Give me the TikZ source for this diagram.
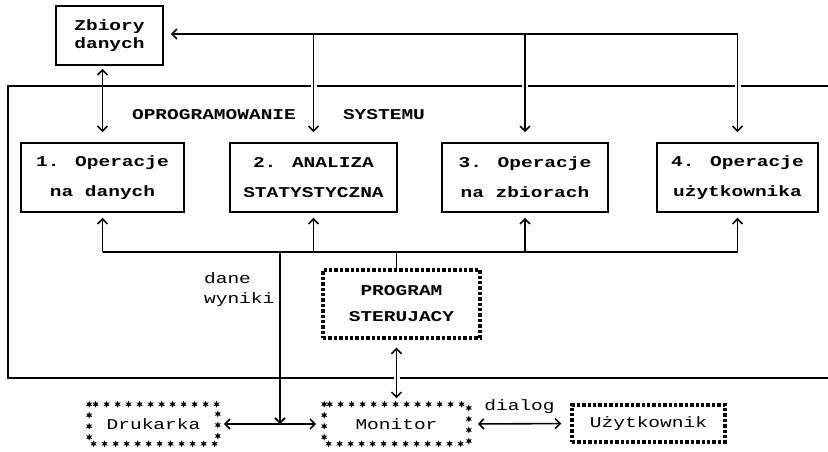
\documentclass[tikz,border=0pt]{standalone}
\usepackage{fontspec}
\newfontfamily\pixfont{Liberation Mono}[FakeStretch=1.3]
\usetikzlibrary{arrows.meta,decorations.markings,shapes.geometric}

\tikzset{
  box/.style={draw, line width=1.6pt, minimum height=69pt, align=center, inner sep=0pt},
  dashbox/.style={draw, line width=3.4pt, dash pattern=on 3.4pt off 2pt, align=center, inner sep=0pt},
  starbox/.style={minimum height=38pt, inner sep=0pt, font=\pixfont\fontsize{15}{18}\selectfont},
  starline/.style={postaction={decorate}, decoration={markings,
      mark=between positions 0 and 0.999 step 11pt with {\node[star, star points=6, star point ratio=2.2, fill, inner sep=0pt, minimum size=7pt] {};}}},
  gap/.style={preaction={draw=white, line width=6pt, -, shorten <=5pt, shorten >=12pt}}
}

\begin{document}
\begin{tikzpicture}[x=1pt, y=-1pt, line width=1.6pt, font=\pixfont\bfseries\fontsize{15}{30}\selectfont, >={Straight Barb[length=5pt,width=10pt]}]
	\useasboundingbox (0,0) rectangle (828,451);
	% Zbiory danych
	\node[box, minimum width=107pt, minimum height=59pt, font=\pixfont\bfseries\fontsize{15}{18}\selectfont] (zbiory) at (109.5,35.5) {Zbiory\\danych};
	% Operacje
	\node[box, minimum width=163pt] (op1) at (102.5,177.5) {1. Operacje\\na danych};
	\node[box, minimum width=167pt] (op2) at (313.5,177.5) {2. ANALIZA\\STATYSTYCZNA};
	\node[box, minimum width=166pt] (op3) at (525,177.5) {3. Operacje\\na zbiorach};
	\node[box, minimum width=161pt] (op4) at (737.5,177.5) {4. Operacje\\użytkownika};
	% Program sterujacy
	\node[dashbox, minimum width=157pt, minimum height=68pt, font=\pixfont\bfseries\fontsize{15}{26}\selectfont] (prog) at (401.5,304) {PROGRAM\\STERUJACY};
	% Urzadzenia i uzytkownik
	\node[starbox, minimum width=127pt] (druk) at (153.5,424) {Drukarka};
	\node[starbox, minimum width=143pt] (mon) at (396.5,424) {Monitor};
	\node[dashbox, minimum width=153pt, minimum height=37pt, font=\pixfont\fontsize{15}{18}\selectfont] (uzyt) at (648.5,423.5) {Użytkownik};
	\path[starline] (druk.north west) rectangle (druk.south east);
	\path[starline] (mon.north west) rectangle (mon.south east);
	% Ramka oprogramowania
	\coordinate (top) at (0,34);
	\coordinate (bus) at (0,252);
	\draw (828,86) -- (8,86) -- (8,378) -- (828,378);
	\node (oprog) at (214,115) {OPROGRAMOWANIE};
	\node (sys) at (384,115) {SYSTEMU};
	% Szyna do zbiorow
	\draw[->, shorten >=7pt] (op4.north |- top) -- (zbiory.east |- top);
	\foreach \n in {op2,op3,op4}
		\draw[->, gap, shorten >=10pt] (\n.north |- top) -- (\n.north);
	\draw[<->, shorten <=10pt, shorten >=3pt] (op1.north) -- (op1.north |- zbiory.south);
	% Szyna programu sterujacego
	\draw (op1.south |- bus) -- (op4.south |- bus);
	\foreach \n in {op1,op2,op3,op4}
		\draw[->, shorten >=5pt] (\n.south |- bus) -- (\n.south);
	\draw (mon.north |- prog.north) -- (mon.north |- bus);
	% Dane i wyniki
	\coordinate (dw) at (280,252);
	\draw[->] (dw) -- (dw |- druk.east);
	\node[anchor=west, align=left, font=\pixfont\fontsize{15}{20}\selectfont] (dane) at (200,290) {dane\\wyniki};
	% Polaczenia urzadzen
	\draw[<->, shorten <=6pt, shorten >=8pt] (druk.east) -- (mon.west);
	\draw[<->, gap, shorten <=8pt, shorten >=6pt] (mon.north |- prog.south) -- (mon.north);
	\draw[<->, shorten <=9pt, shorten >=9pt] (mon.east) -- (uzyt.west) node[midway, above=6pt, font=\pixfont\fontsize{15}{18}\selectfont] (dialog) {dialog};
\end{tikzpicture}
\end{document}
